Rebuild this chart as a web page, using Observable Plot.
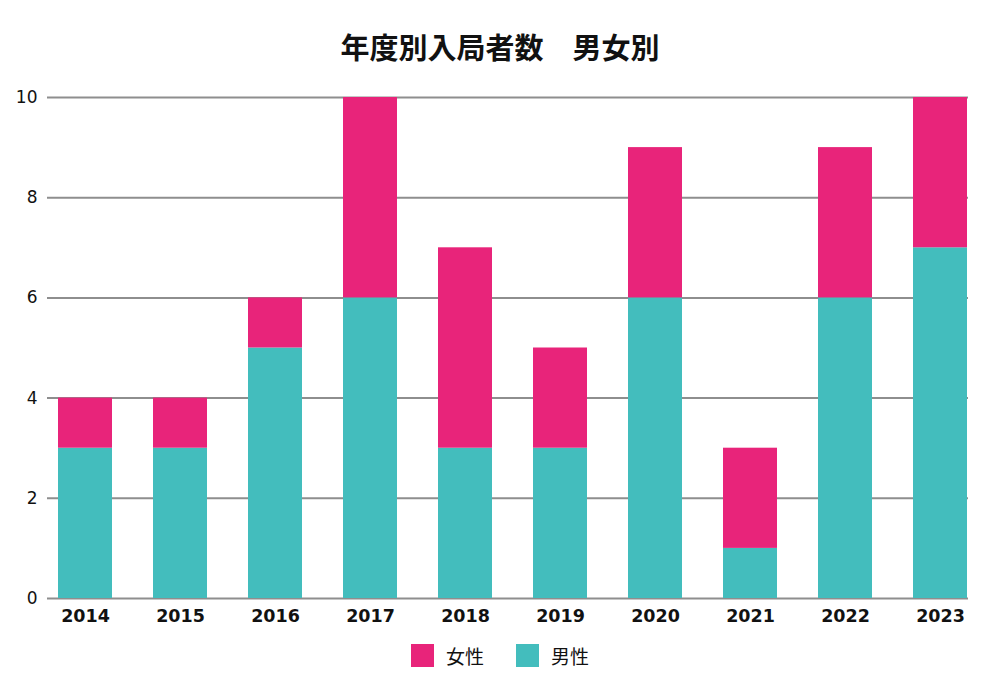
<!DOCTYPE html>
<html><head><meta charset="utf-8">
<script src="https://cdn.jsdelivr.net/npm/d3@7"></script>
<script src="https://cdn.jsdelivr.net/npm/@observablehq/plot@0.6"></script>
<style>
body{margin:0;background:#fff;font-family:"Noto Sans CJK JP","Noto Sans",sans-serif;}
#title{height:80px;line-height:92px;text-align:center;font-size:29px;font-weight:bold;color:#111;}
#legend{display:flex;justify-content:center;align-items:center;font-size:19px;color:#111;margin-top:2px;}
.item{display:flex;align-items:center;margin:0 16px;}
.sw{width:23px;height:23px;margin-right:12px;}
</style></head><body>
<div id="title">年度別入局者数　男女別</div>
<div id="chart"></div>
<div id="legend"></div>
<script>
const years = ["2014","2015","2016","2017","2018","2019","2020","2021","2022","2023"];
const male = [3,3,5,6,3,3,6,1,6,7];
const female = [1,1,1,4,4,2,3,2,3,3];
const series = ["男性","女性"];
const colors = ["#43BDBD","#E8247A"];
const yTicks = [0,2,4,6,8,10];

const data = [];
years.forEach((y,i)=>{
  data.push({year:y, sex:"男性", value:male[i]});
  data.push({year:y, sex:"女性", value:female[i]});
});

const chart = Plot.plot({
  width:1000, height:560,
  marginLeft:47, marginRight:32, marginTop:17, marginBottom:42,
  style:{fontFamily:'"DejaVu Sans",sans-serif', fontSize:"16px", color:"#111"},
  x:{domain:years, range:[56,968], paddingInner:0.434, paddingOuter:0, label:null},
  y:{domain:[0,10], label:null},
  color:{domain:series, range:colors},
  marks:[
    Plot.ruleY(yTicks,{stroke:"#8e8e8e", strokeWidth:2}),
    Plot.barY(data, Plot.stackY({x:"year", y:"value", fill:"sex", order:series})),
    Plot.axisX({tickSize:0, tickPadding:11, fontWeight:"bold", fontSize:17.5}),
    Plot.axisY({ticks:yTicks, tickSize:0, tickPadding:10, fontSize:17})
  ]
});
document.getElementById("chart").appendChild(chart);

const legend = document.getElementById("legend");
[["女性",colors[1]],["男性",colors[0]]].forEach(([name,c])=>{
  const it=document.createElement("div"); it.className="item";
  const sw=document.createElement("div"); sw.className="sw"; sw.style.background=c;
  const t=document.createElement("span"); t.textContent=name;
  it.appendChild(sw); it.appendChild(t); legend.appendChild(it);
});
</script>
</body></html>
